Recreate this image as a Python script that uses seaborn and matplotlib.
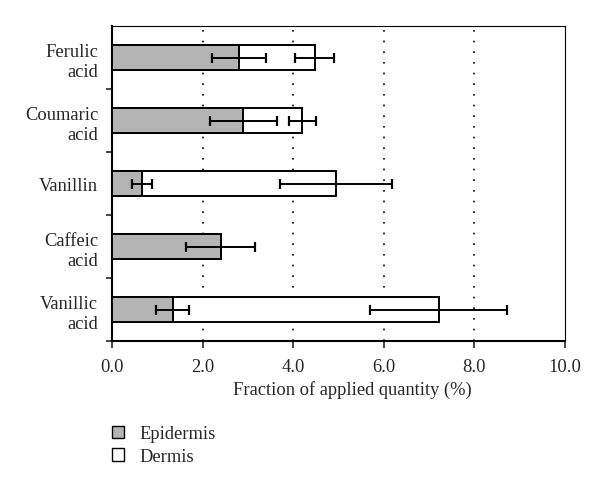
import numpy as np
import pandas as pd
import matplotlib
matplotlib.use("Agg")
import matplotlib.pyplot as plt
import seaborn as sns
from matplotlib.patches import Patch

# values (% of applied quantity)
compounds = ["Ferulic\nacid", "Coumaric\nacid", "Vanillin", "Caffeic\nacid", "Vanillic\nacid"]
epidermis = [2.8, 2.9, 0.67, 2.4, 1.34]
epidermis_err = [0.6, 0.74, 0.22, 0.76, 0.36]
dermis = [1.68, 1.3, 4.27, 0.0, 5.87]
dermis_err = [0.43, 0.3, 1.24, np.nan, 1.52]
xticks = [0, 2, 4, 6, 8, 10]

sns.set_style("white")
plt.rcParams["font.family"] = ["Liberation Serif", "DejaVu Serif"]

df = pd.DataFrame({"compound": compounds, "epidermis": epidermis, "dermis": dermis})
df["total"] = df["epidermis"] + df["dermis"]

fig = plt.figure(figsize=(6, 4.89), dpi=100)
ax = fig.add_axes([0.1867, 0.3006, 0.755, 0.644])

# white (dermis) bars drawn as totals, epidermis gray on top
sns.barplot(data=df, y="compound", x="total", order=compounds, color="white",
            edgecolor="black", linewidth=1.4, width=0.4, saturation=1, ax=ax, zorder=3)
sns.barplot(data=df, y="compound", x="epidermis", order=compounds, color="#b4b4b4",
            edgecolor="black", linewidth=1.4, width=0.4, saturation=1, ax=ax, zorder=4)

ypos = np.arange(len(compounds))
ax.errorbar(df["epidermis"], ypos, xerr=epidermis_err, fmt="none", ecolor="black",
            elinewidth=1.4, capsize=3.5, capthick=1.6, zorder=5)
ax.errorbar(df["total"], ypos, xerr=dermis_err, fmt="none", ecolor="black",
            elinewidth=1.4, capsize=3.5, capthick=1.6, zorder=5)

ax.set_xlim(0, 10)
ax.set_ylim(4.5, -0.5)
ax.set_xticks(xticks)
ax.set_xticklabels([f"{v:.1f}" for v in xticks], fontsize=13.3)
for v in xticks[1:-1]:
    ax.axvline(v, color="black", lw=1.2, linestyle=(0, (1, 5.4)), zorder=1)

ax.set_yticks(ypos)
ax.set_yticklabels(compounds, fontsize=13.3, linespacing=1.25)
ax.set_yticks(np.arange(0.5, 5, 1), minor=True)
ax.tick_params(axis="y", which="major", length=0, pad=10)
ax.tick_params(axis="y", which="minor", length=4, width=1.2, direction="out", left=True)
ax.tick_params(axis="x", length=5, width=1.2, direction="out", bottom=True, pad=7)

ax.set_ylabel("")
ax.set_xlabel("Fraction of applied quantity (%)", fontsize=13.3)
ax.xaxis.set_label_coords(0.53, -0.125)

for side in ["left", "bottom"]:
    ax.spines[side].set_linewidth(1.5)
    ax.spines[side].set_color("black")
for side in ["top", "right"]:
    ax.spines[side].set_linewidth(0.8)
    ax.spines[side].set_color("black")

handles = [Patch(facecolor="#b4b4b4", edgecolor="black", linewidth=1.0, label="Epidermis"),
           Patch(facecolor="white", edgecolor="black", linewidth=1.0, label="Dermis")]
fig.legend(handles=handles, loc="upper left", bbox_to_anchor=(0.187, 0.128), frameon=False,
           fontsize=13.3, handlelength=0.65, handleheight=0.65, handletextpad=0.8,
           labelspacing=0.3, borderaxespad=0, borderpad=0)

fig.savefig("out.png", dpi=100)
